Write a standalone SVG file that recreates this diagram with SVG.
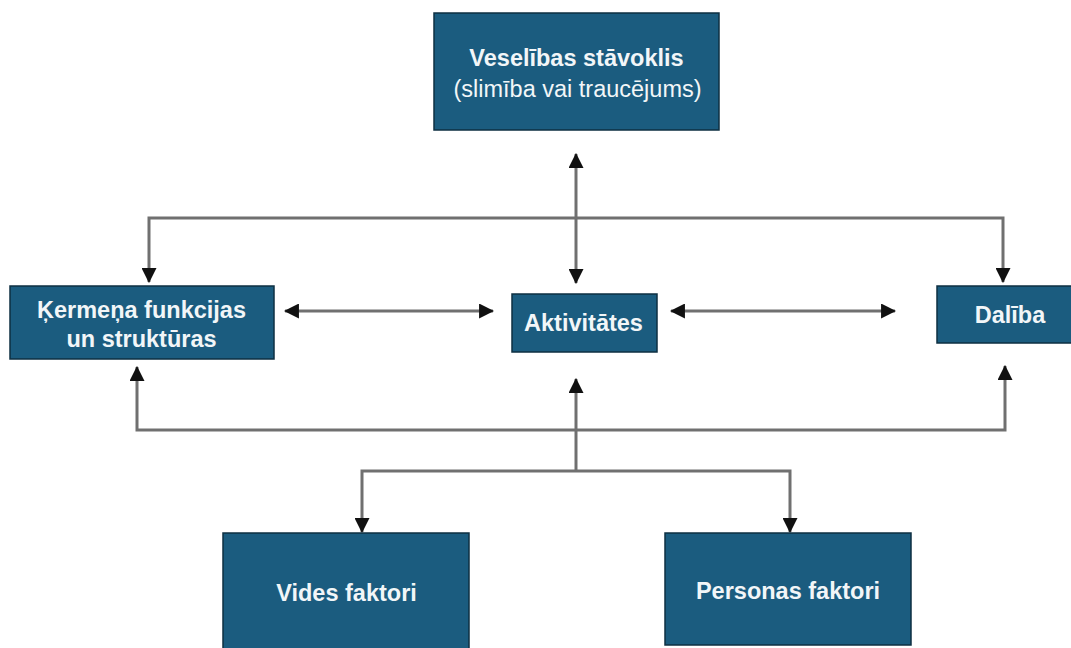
<svg xmlns="http://www.w3.org/2000/svg" width="1071" height="648" viewBox="0 0 1071 648">
<defs>
<style>
.box{fill:#1b5c7f;stroke:#0e2f42;stroke-width:1.5}
.t{font-family:"Liberation Sans",Arial,sans-serif;fill:#f2f6f8;text-anchor:middle}
.b{font-weight:bold;font-size:23.5px}
.r{font-size:23.5px}
.c{fill:none;stroke:#707070;stroke-width:3}
</style>
<marker id="ah" viewBox="0 0 14 14" refX="13" refY="7" markerWidth="15" markerHeight="15" markerUnits="userSpaceOnUse" orient="auto-start-reverse">
<path d="M0,0 L14,7 L0,14 z" fill="#111"/>
</marker>
</defs>
<rect width="1071" height="648" fill="#fff"/>
<g id="connectors">
<path class="c" d="M576,154 V283" marker-start="url(#ah)" marker-end="url(#ah)"/>
<path class="c" d="M149,282 V218 H1003 V282" marker-start="url(#ah)" marker-end="url(#ah)"/>
<path class="c" d="M285,311 H493" marker-start="url(#ah)" marker-end="url(#ah)"/>
<path class="c" d="M671,311 H895" marker-start="url(#ah)" marker-end="url(#ah)"/>
<path class="c" d="M137,367 V430 H1005 V366" marker-start="url(#ah)" marker-end="url(#ah)"/>
<path class="c" d="M576,471 V379" marker-end="url(#ah)"/>
<path class="c" d="M362,532 V471 H790 V532" marker-start="url(#ah)" marker-end="url(#ah)"/>
</g>
<g id="veselibas">
<rect class="box" x="434" y="13" width="285" height="117"/>
<text class="t b" x="576.5" y="66">Veselības stāvoklis</text>
<text class="t r" x="577.5" y="97">(slimība vai traucējums)</text>
</g>
<g id="kermena">
<rect class="box" x="10" y="286" width="264" height="73"/>
<text class="t b" x="141.5" y="318">Ķermeņa funkcijas</text>
<text class="t b" x="141.5" y="347">un struktūras</text>
</g>
<g id="aktivitates">
<rect class="box" x="512" y="294" width="145" height="58"/>
<text class="t b" x="583.5" y="331">Aktivitātes</text>
</g>
<g id="daliba">
<rect class="box" x="937" y="286" width="140" height="57"/>
<text class="t b" x="1010" y="323">Dalība</text>
</g>
<g id="vides">
<rect class="box" x="223" y="533" width="246" height="120"/>
<text class="t b" x="346.5" y="601">Vides faktori</text>
</g>
<g id="personas">
<rect class="box" x="665" y="533" width="246" height="112"/>
<text class="t b" x="788" y="599">Personas faktori</text>
</g>
</svg>
